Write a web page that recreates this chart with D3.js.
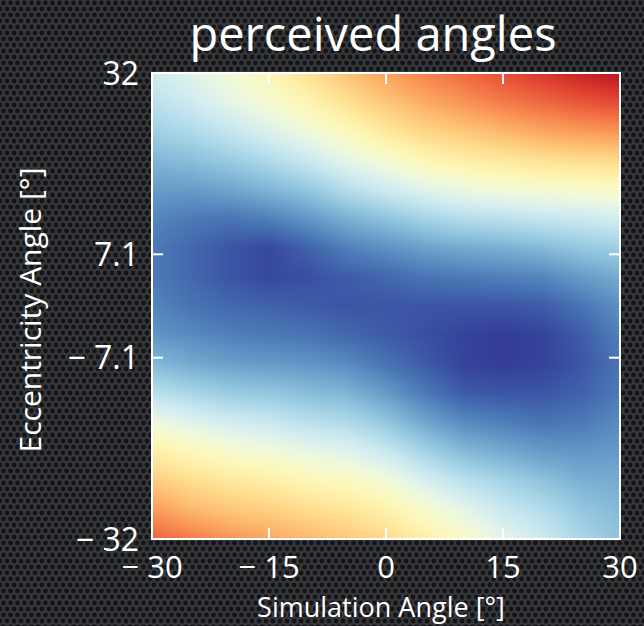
<!DOCTYPE html>
<html><head><meta charset="utf-8">
<script src="https://cdn.jsdelivr.net/npm/d3@7"></script>
<style>html,body{margin:0;padding:0;background:#262729;overflow:hidden}svg{display:block}</style>
</head><body>
<svg id="chart" width="644" height="626"></svg>
<script>
// ---- data ----
const title = "perceived angles";
const xLabel = "Simulation Angle [°]";
const yLabel = "Eccentricity Angle [°]";
const xGrid = [-30,-25,-20,-15,-10,-5,0,5,10,15,20,25,30];
const yGrid = [32,28,24,20,16,12,8,4,0,-4,-8,-12,-16,-20,-24,-28,-32];
// normalised colour value (0 = deep blue, 1 = deep red), rows follow yGrid, columns follow xGrid
const values = [
 [0.37,0.41,0.46,0.52,0.59,0.66,0.72,0.77,0.81,0.85,0.89,0.93,0.96],
 [0.33,0.37,0.42,0.47,0.53,0.59,0.65,0.70,0.74,0.78,0.81,0.84,0.86],
 [0.28,0.31,0.35,0.40,0.45,0.51,0.57,0.62,0.65,0.68,0.71,0.73,0.74],
 [0.22,0.24,0.27,0.31,0.36,0.42,0.47,0.52,0.55,0.57,0.59,0.60,0.61],
 [0.17,0.17,0.19,0.22,0.26,0.32,0.37,0.41,0.44,0.46,0.47,0.48,0.49],
 [0.13,0.11,0.10,0.12,0.16,0.21,0.25,0.29,0.32,0.33,0.35,0.36,0.38],
 [0.11,0.08,0.05,0.03,0.07,0.12,0.15,0.18,0.20,0.21,0.23,0.26,0.28],
 [0.11,0.08,0.05,0.03,0.04,0.06,0.08,0.10,0.11,0.12,0.13,0.17,0.20],
 [0.13,0.10,0.08,0.07,0.06,0.05,0.05,0.05,0.05,0.05,0.06,0.10,0.15],
 [0.16,0.14,0.12,0.11,0.10,0.08,0.06,0.04,0.02,0.01,0.02,0.06,0.12],
 [0.23,0.20,0.18,0.17,0.16,0.14,0.10,0.06,0.02,0.01,0.02,0.05,0.10],
 [0.33,0.30,0.27,0.26,0.24,0.22,0.17,0.11,0.06,0.05,0.05,0.07,0.11],
 [0.45,0.41,0.38,0.36,0.33,0.31,0.26,0.19,0.14,0.12,0.10,0.11,0.14],
 [0.55,0.51,0.48,0.46,0.43,0.41,0.36,0.29,0.23,0.20,0.17,0.16,0.17],
 [0.64,0.60,0.57,0.55,0.52,0.50,0.46,0.39,0.33,0.29,0.25,0.21,0.20],
 [0.73,0.68,0.65,0.63,0.60,0.58,0.54,0.48,0.42,0.36,0.32,0.26,0.23],
 [0.82,0.78,0.74,0.71,0.68,0.65,0.61,0.55,0.49,0.42,0.37,0.30,0.25]
];
const xTicks = [-30,-15,0,15,30];
const yTicks = [32,7.1,-7.1,-32];

// ---- layout ----
const W = 644, H = 626;
const m = {left:152, top:73, right:24, bottom:87};
const pw = W - m.left - m.right, ph = H - m.top - m.bottom;
const font = "'Open Sans', 'Noto Sans', sans-serif";

const svg = d3.select("#chart");
const defs = svg.append("defs");
const pat = defs.append("pattern").attr("id","mesh").attr("patternUnits","userSpaceOnUse")
  .attr("width",7).attr("height",12);
pat.append("rect").attr("width",7).attr("height",12).attr("fill","#36373a");
[[3.5,3],[0,9],[7,9]].forEach(([cx,cy]) =>
  pat.append("circle").attr("cx",cx).attr("cy",cy).attr("r",2.4).attr("fill","#131415"));
svg.append("rect").attr("width",W).attr("height",H).attr("fill","url(#mesh)");

const x = d3.scaleLinear().domain([-30,30]).range([m.left, m.left+pw]);
const y = d3.scaleLinear().domain([-32,32]).range([m.top+ph, m.top]);
const color = d3.scaleSequential(t => d3.interpolateRdYlBu(1 - t)).domain([0,1]);
const colIdx = d3.scaleLinear().domain([xGrid[0], xGrid[xGrid.length-1]]).range([0, xGrid.length-1]).clamp(true);
const rowIdx = d3.scaleLinear().domain([yGrid[0], yGrid[yGrid.length-1]]).range([0, yGrid.length-1]).clamp(true);

// heatmap image (bilinear, like imshow interpolation)
const cw = Math.round(pw), ch = Math.round(ph);
const cv = document.createElement("canvas"); cv.width = cw; cv.height = ch;
const ctx = cv.getContext("2d");
const img = ctx.createImageData(cw, ch);
for (let j = 0; j < ch; j++) {
  const r = rowIdx(y.invert(m.top + j + 0.5));
  const r0 = Math.min(Math.floor(r), yGrid.length-2), fr = r - r0;
  for (let i = 0; i < cw; i++) {
    const c = colIdx(x.invert(m.left + i + 0.5));
    const c0 = Math.min(Math.floor(c), xGrid.length-2), fc = c - c0;
    const v = (values[r0][c0]*(1-fc) + values[r0][c0+1]*fc)*(1-fr) +
              (values[r0+1][c0]*(1-fc) + values[r0+1][c0+1]*fc)*fr;
    const col = d3.rgb(color(v));
    const k = (j*cw + i)*4;
    img.data[k] = col.r; img.data[k+1] = col.g; img.data[k+2] = col.b; img.data[k+3] = 255;
  }
}
ctx.putImageData(img, 0, 0);
svg.append("image").attr("x", m.left).attr("y", m.top).attr("width", pw).attr("height", ph)
  .attr("preserveAspectRatio","none").attr("href", cv.toDataURL());

// frame
svg.append("rect").attr("x", m.left).attr("y", m.top).attr("width", pw).attr("height", ph)
  .attr("fill","none").attr("stroke","#fff").attr("stroke-width",2);

const fmt = v => (v < 0 ? "\u2212 " + Math.abs(v) : String(v));
const tl = 11;
// x ticks (bottom & top, inward)
const gx = svg.append("g");
xTicks.forEach(t => {
  if (t !== -30 && t !== 30) {
    gx.append("line").attr("x1", x(t)).attr("x2", x(t)).attr("y1", m.top+ph).attr("y2", m.top+ph-tl)
      .attr("stroke","#fff").attr("stroke-width",2);
    gx.append("line").attr("x1", x(t)).attr("x2", x(t)).attr("y1", m.top).attr("y2", m.top+tl)
      .attr("stroke","#fff").attr("stroke-width",2);
  }
  gx.append("text").attr("x", x(t)).attr("y", m.top+ph+39).attr("text-anchor","middle")
    .attr("fill","#fff").attr("font-family",font).attr("font-size",31).text(fmt(t));
});
// y ticks (left & right, inward)
const gy = svg.append("g");
yTicks.forEach(t => {
  if (Math.abs(t) !== 32) {
    gy.append("line").attr("x1", m.left).attr("x2", m.left+tl).attr("y1", y(t)).attr("y2", y(t))
      .attr("stroke","#fff").attr("stroke-width",2);
    gy.append("line").attr("x1", m.left+pw).attr("x2", m.left+pw-tl).attr("y1", y(t)).attr("y2", y(t))
      .attr("stroke","#fff").attr("stroke-width",2);
  }
  gy.append("text").attr("x", m.left-13).attr("y", y(t)).attr("dy","0.36em").attr("text-anchor","end")
    .attr("fill","#fff").attr("font-family",font).attr("font-size",32).text(fmt(t));
});

svg.append("text").attr("x", 373).attr("y", 51).attr("text-anchor","middle")
  .attr("fill","#fff").attr("font-family",font).attr("font-size",47).text(title);
svg.append("text").attr("x", 381).attr("y", 616.5).attr("text-anchor","middle")
  .attr("fill","#fff").attr("font-family",font).attr("font-size",27).text(xLabel);
svg.append("text").attr("transform", `translate(41,310) rotate(-90)`).attr("text-anchor","middle")
  .attr("fill","#fff").attr("font-family",font).attr("font-size",30).text(yLabel);
</script>
</body></html>
